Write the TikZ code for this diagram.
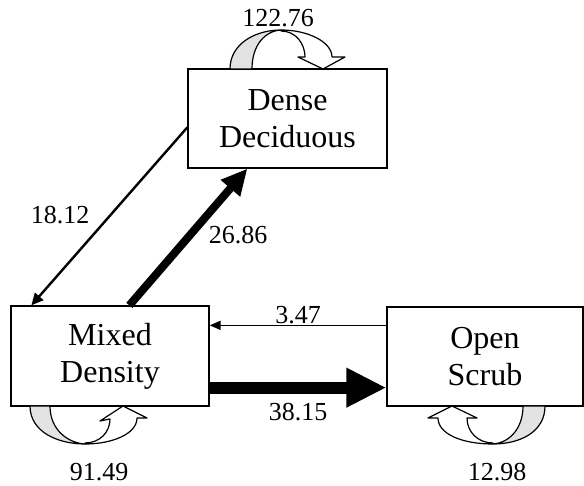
\documentclass[tikz,border=0pt]{standalone}
\usepackage{fontspec}
\setmainfont{Liberation Serif}
\usetikzlibrary{arrows.meta,calc}
\begin{document}
\begin{tikzpicture}[x=1pt,y=-1pt,
  state/.style={draw,line width=1.3pt,rectangle,align=center,inner sep=0pt,font=\fontsize{32}{37}\selectfont},
  num/.style={font=\fontsize{26}{30}\selectfont,inner sep=0pt},
  loopline/.style={draw=black,line width=1.2pt,line join=round},
  back/.style={loopline,fill=gray!22},
  front/.style={loopline,fill=white}]
\useasboundingbox (0,0) rectangle (584,486);

\node[state,minimum width=199pt,minimum height=99pt] (DD) at (287.5,118.5) {Dense\\Deciduous};
\node[state,minimum width=198pt,minimum height=100pt] (MD) at (110,356) {Mixed\\Density};
\node[state,minimum width=196pt,minimum height=99pt] (OS) at (485,356.5) {Open\\Scrub};

% transitions
\draw[line width=2.4pt,-{Triangle[length=12pt,width=11pt]}]
  ($(DD.north west)+(0,59)$) -- ($(MD.north west)+(21,0)$);
\draw[line width=8pt,-{Triangle[length=26pt,width=24pt]}]
  ($(MD.north west)+(119,0)$) -- ($(DD.south west)+(60,0)$);
\draw[line width=1.6pt,-{Triangle[length=11pt,width=9pt]}]
  ($(OS.north west)+(0,19)$) -- ($(MD.north east)+(0,20)$);
\draw[line width=12pt,-{Triangle[length=40pt,width=37pt]}]
  ($(MD.south east)+(0,-19)$) -- ($(OS.south west)+(0,-19)$);

\node[num] (l1) at (60,215) {18.12};
\node[num] (l2) at (238,235) {26.86};
\node[num] (l3) at (298,315) {3.47};
\node[num] (l4) at (298,412) {38.15};

% self loops
% Dense Deciduous
\draw[back] (230,69) .. controls (230,44) and (255,30) .. (281,30)
  .. controls (265,31) and (252,45) .. (252,69) -- cycle;
\draw[front] (281,30) .. controls (308,30) and (332,42) .. (332,57)
  -- (345,57) -- (323,69) -- (298,57) -- (305,57)
  .. controls (305,44) and (296,31) .. (281,31) -- cycle;
\node[num] (s1) at (278,18) {122.76};

% Mixed Density
\draw[back] (30,406) .. controls (30,432) and (58,444) .. (85,444)
  .. controls (68,443) and (50,430) .. (50,406) -- cycle;
\draw[front] (85,444) .. controls (112,444) and (137,434) .. (137,418)
  -- (147,418) -- (123,406) -- (100,421) -- (110,419)
  .. controls (110,432) and (100,443) .. (85,443) -- cycle;
\node[num] (s2) at (99,472) {91.49};

% Open Scrub
\draw[back] (545,406) .. controls (545,432) and (520,444) .. (493,444)
  .. controls (508,443) and (523,430) .. (523,406) -- cycle;
\draw[front] (493,444) .. controls (462,444) and (438,434) .. (438,418)
  -- (428,418) -- (452,406) -- (477,418) -- (467,418)
  .. controls (467,432) and (478,443) .. (493,443) -- cycle;
\node[num] (s3) at (497,472) {12.98};
\end{tikzpicture}
\end{document}
